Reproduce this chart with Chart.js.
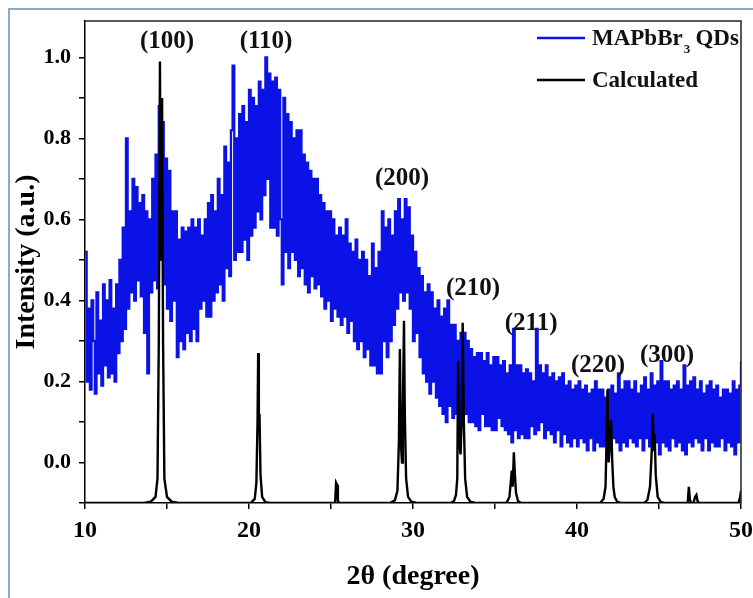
<!DOCTYPE html>
<html>
<head>
<meta charset="utf-8">
<script src="https://cdn.jsdelivr.net/npm/chart.js@4"></script>
<style>
body{margin:0;background:#fff;}
#wrap{position:absolute;left:0;top:0;width:753px;height:598px;overflow:hidden;background:#fff;}
#frame{position:absolute;left:8px;top:8px;width:800px;height:700px;border:2px solid #8ea9cc;box-sizing:border-box;}
canvas{position:absolute;left:0;top:0;}
</style>
</head>
<body>
<div id="wrap"><div id="frame"></div><canvas id="chart" width="753" height="598"></canvas></div>
<script>
// measured pattern, one value every 0.1 degree from 10 to 50
let thetaStart = 10;
let thetaStep = 0.1;
let qdInt = [
.52,.20,.38,.18,.40, .30,.17,.42,.22,.35, .19,.44,.24,.40,.21, .45,.22,.38,.20,.44,
.27,.50,.30,.58,.33, .80,.38,.62,.42,.70, .40,.68,.45,.64,.41, .66,.32,.62,.22,.60,
.42,.70,.45,.76,.43, .88,.50,.84,.44,.75, .38,.72,.35,.62,.40, .62,.26,.55,.30,.58,
.28,.57,.32,.58,.30, .60,.33,.58,.30,.60, .38,.56,.40,.60,.36, .64,.36,.66,.40,.62,
.42,.70,.44,.66,.40, .78,.48,.74,.46,.82, .98,.50,.80,.52,.86, .52,.88,.55,.84,.50,
.92,.56,.90,.58,.88, .62,.94,.60,.92,.66, 1.0,.70,.96,.58,.94, .58,.95,.56,.92,.60,
.44,.90,.52,.86,.48, .84,.52,.80,.50,.82, .46,.82,.48,.76,.44, .74,.42,.72,.46,.70,
.43,.70,.44,.66,.41, .64,.38,.62,.40,.62, .35,.60,.38,.56,.36, .58,.34,.56,.36,.60,
.32,.54,.35,.52,.30, .55,.28,.50,.30,.52, .26,.50,.28,.46,.24, .54,.24,.48,.22,.52,
.22,.62,.30,.58,.26, .60,.30,.56,.34,.62, .38,.65,.42,.60,.40, .65,.42,.63,.38,.56,
.30,.52,.32,.48,.26, .46,.22,.42,.20,.44, .17,.42,.20,.38,.16, .40,.14,.36,.12,.38,
.10,.40,.14,.34,.11, .34,.12,.30,.10,.32, .09,.32,.12,.30,.10, .28,.10,.26,.09,.27,
.08,.27,.12,.25,.09, .27,.09,.24,.08,.26, .08,.26,.11,.24,.09, .25,.08,.22,.07,.24,
.05,.33,.08,.24,.06, .24,.07,.22,.06,.23, .06,.22,.09,.20,.07, .33,.08,.24,.10,.22,
.06,.24,.08,.21,.07, .22,.05,.20,.08,.21, .04,.22,.07,.19,.05, .20,.04,.18,.06,.19,
.04,.20,.06,.18,.05, .19,.03,.17,.06,.18, .03,.20,.05,.18,.04, .18,.04,.16,.06,.18,
.04,.19,.06,.17,.05, .22,.03,.18,.05,.20, .04,.20,.06,.18,.05, .20,.04,.17,.06,.19,
.03,.21,.06,.18,.04, .22,.03,.19,.05,.20, .02,.25,.05,.20,.04, .20,.03,.18,.06,.19,
.04,.20,.05,.18,.03, .24,.02,.19,.05,.20, .04,.21,.06,.18,.05, .20,.03,.17,.06,.19,
.03,.20,.05,.18,.04, .19,.04,.16,.06,.18, .03,.18,.05,.17,.04, .20,.02,.18,.05,.19,
.25
];

// calculated pattern
let calcTheta = [10, 13.6, 14.0, 14.3, 14.42, 14.5, 14.57, 14.62, 14.7, 14.76, 14.84, 15.0, 15.3, 15.7,
 20.1, 20.35, 20.45, 20.52, 20.56, 20.6, 20.64, 20.7, 20.8, 21.0, 21.3,
 25.25, 25.31, 25.37, 25.42, 25.5,
 28.6, 28.9, 29.05, 29.14, 29.2, 29.26, 29.33, 29.38, 29.45, 29.5, 29.58, 29.7, 29.9, 30.2,
 32.3, 32.5, 32.62, 32.7, 32.75, 32.82, 32.9, 32.96, 33.03, 33.1, 33.18, 33.3, 33.5, 33.8,
 35.7, 35.88, 35.96, 36.02, 36.08, 36.15, 36.2, 36.28, 36.4, 36.6,
 41.4, 41.62, 41.74, 41.8, 41.86, 41.93, 42.0, 42.08, 42.15, 42.22, 42.3, 42.45, 42.7,
 44.1, 44.3, 44.45, 44.55, 44.62, 44.68, 44.74, 44.8, 44.92, 45.1, 45.3,
 46.75, 46.82, 46.88, 46.95, 47.1, 47.2, 47.28, 47.35, 47.45,
 49.85, 49.95, 50];
let calcInt = [-0.1, -0.1, -0.097, -0.085, -0.04, 0.3, 0.99, 0.5, 0.90, 0.3, -0.04, -0.085, -0.097, -0.1,
 -0.1, -0.09, -0.05, 0.1, 0.27, 0.1, 0.12, -0.03, -0.085, -0.098, -0.1,
 -0.1, -0.05, -0.055, -0.095, -0.1,
 -0.1, -0.093, -0.07, 0.05, 0.28, 0.05, 0.0, 0.12, 0.35, 0.12, -0.04, -0.085, -0.097, -0.1,
 -0.1, -0.095, -0.08, -0.04, 0.25, 0.05, 0.02, 0.1, 0.345, 0.1, -0.04, -0.085, -0.097, -0.1,
 -0.1, -0.085, -0.05, -0.02, -0.06, 0.025, -0.02, -0.075, -0.095, -0.1,
 -0.1, -0.09, -0.06, 0.05, 0.18, 0.0, 0.04, 0.105, 0.0, -0.06, -0.085, -0.097, -0.1,
 -0.1, -0.092, -0.06, 0.02, 0.12, 0.03, 0.07, -0.03, -0.085, -0.097, -0.1,
 -0.1, -0.06, -0.09, -0.1, -0.1, -0.085, -0.08, -0.095, -0.1,
 -0.1, -0.085, -0.07];

// reflection labels
let peakNames = ["(100)", "(110)", "(200)", "(210)", "(211)", "(220)", "(300)"];
let peakX = [15.0, 21.04, 29.33, 33.66, 37.2, 41.28, 45.49];
let peakY = [1.04, 1.04, 0.70, 0.43, 0.343, 0.239, 0.264];

let seriesNames = ["MAPbBr", "Calculated"];
let blue = "#0a12e6";
let serif = '"Liberation Serif", "Times New Roman", serif';

let qdPoints = qdInt.map((v, i) => ({x: thetaStart + i * thetaStep, y: v}));
let calcPoints = calcTheta.map((t, i) => ({x: t, y: calcInt[i]}));

const extras = {
  id: "extras",
  afterDraw(c) {
    const ctx = c.ctx;
    const a = c.chartArea;
    const xs = c.scales.x, ys = c.scales.y;
    ctx.save();
    // box top and right
    ctx.strokeStyle = "#222";
    ctx.lineWidth = 1.5;
    ctx.beginPath();
    ctx.moveTo(a.left, a.top);
    ctx.lineTo(a.right, a.top);
    ctx.lineTo(a.right, a.bottom);
    ctx.stroke();

    // peak labels
    ctx.fillStyle = "#111";
    ctx.font = "bold 25px " + serif;
    ctx.textAlign = "center";
    ctx.textBaseline = "middle";
    peakNames.forEach((n, i) => {
      ctx.fillText(n, xs.getPixelForValue(peakX[i]), ys.getPixelForValue(peakY[i]));
    });

    // legend
    ctx.textAlign = "left";
    ctx.lineWidth = 2.5;
    ctx.strokeStyle = blue;
    ctx.beginPath(); ctx.moveTo(537, 38); ctx.lineTo(585, 38); ctx.stroke();
    ctx.strokeStyle = "#000";
    ctx.beginPath(); ctx.moveTo(537, 80); ctx.lineTo(585, 80); ctx.stroke();
    ctx.font = "bold 23px " + serif;
    ctx.fillText(seriesNames[0], 592, 39);
    let w = ctx.measureText(seriesNames[0]).width;
    ctx.font = "bold 13px " + serif;
    ctx.fillText("3", 592 + w + 1, 50);
    ctx.font = "bold 23px " + serif;
    ctx.fillText(" QDs", 592 + w + 7, 39);
    ctx.fillText(seriesNames[1], 592, 81);
    ctx.restore();
  }
};

new Chart(document.getElementById("chart"), {
  type: "line",
  data: {
    datasets: [
      {label: "Calculated", data: calcPoints, borderColor: "#000", borderWidth: 2.4, pointRadius: 0, tension: 0},
      {label: "MAPbBr3 QDs", data: qdPoints, borderColor: blue, borderWidth: 2.3, pointRadius: 0, stepped: true}
    ]
  },
  options: {
    responsive: false,
    animation: false,
    layout: {autoPadding: false, padding: {left: 10, right: 12, top: 21, bottom: 0}},
    plugins: {legend: {display: false}, tooltip: {enabled: false}},
    scales: {
      x: {
        type: "linear", min: 10, max: 50,
        ticks: {stepSize: 5, autoSkip: false, maxRotation: 0, padding: 7, color: "#000",
          font: {family: serif, size: 24, weight: "bold"},
          callback: v => v % 10 === 0 ? String(v) : ""},
        grid: {drawOnChartArea: false, drawTicks: true, tickLength: 6, color: "#000", lineWidth: 1.5},
        border: {color: "#000", width: 1.5},
        title: {display: true, text: "2θ (degree)", color: "#000",
          font: {family: serif, size: 28, weight: "bold"}, padding: {top: 0, bottom: 4}},
        afterFit: s => { s.height = 95; s.paddingLeft = 0; s.paddingRight = 0; }
      },
      y: {
        min: -0.1, max: 1.09,
        ticks: {stepSize: 0.1, includeBounds: false, padding: 8, color: "#000",
          font: {family: serif, size: 22, weight: "bold"},
          callback: v => { let k = Math.round(v * 10); return (k >= 0 && k % 2 === 0) ? (k / 10).toFixed(1) : ""; }},
        grid: {drawOnChartArea: false, drawTicks: true, tickLength: 6, color: "#000", lineWidth: 1.5},
        border: {color: "#000", width: 1.5},
        title: {display: true, text: "Intensity (a.u.)", color: "#000",
          font: {family: serif, size: 28, weight: "bold"}, padding: {top: 0, bottom: 0}},
        afterFit: s => { s.width = 75; s.paddingTop = 0; s.paddingBottom = 0; }
      }
    }
  },
  plugins: [extras]
});
</script>
</body>
</html>
